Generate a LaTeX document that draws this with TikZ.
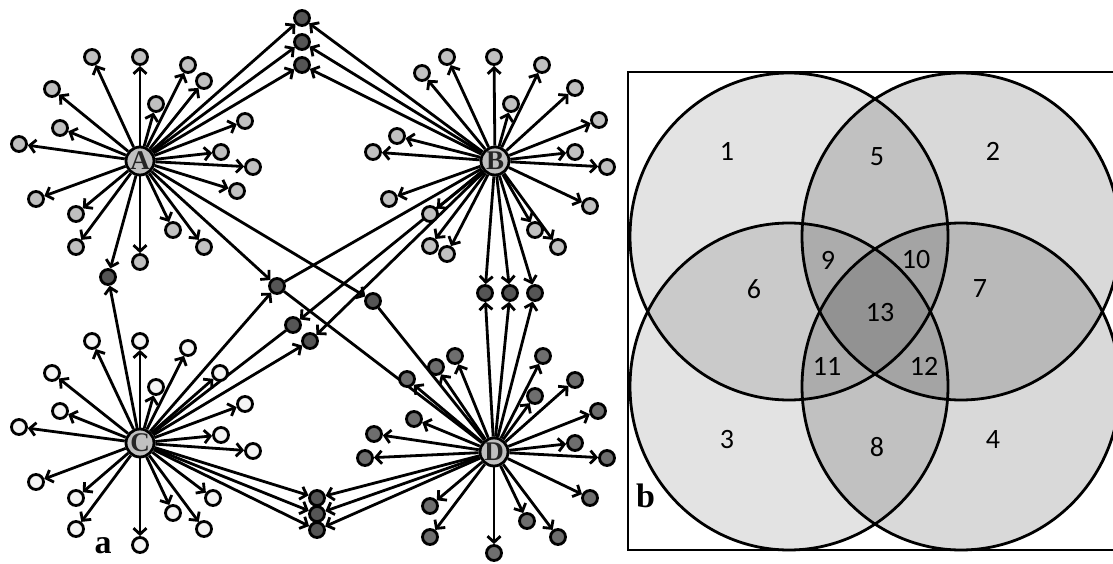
\documentclass[tikz,border=0pt]{standalone}
\usepackage{fontspec}
\setmainfont{Liberation Serif}
\newfontfamily\vennfont{Carlito}
\usetikzlibrary{arrows.meta,backgrounds}
\definecolor{hubgray}{HTML}{C0C0C0}
\definecolor{satlight}{HTML}{C0C0C0}
\definecolor{satwhite}{HTML}{F4F4F4}
\definecolor{satmid}{HTML}{6E6E6E}
\definecolor{shareddark}{HTML}{555555}

\tikzset{
  hub/.style={circle,draw,line width=2.8pt,fill=hubgray,minimum size=28pt,inner sep=0pt,
    font=\fontsize{27}{27}\selectfont\bfseries,text=black!85},
  sat/.style={circle,draw,line width=2.8pt,minimum size=15pt,inner sep=0pt},
  shared/.style={sat,fill=shareddark},
  arr/.style={line width=2.8pt,-{Straight Barb[length=6pt,width=13pt]}},
  link/.style={line width=2.8pt},
  venn/.style={font=\vennfont\fontsize{28}{28}\selectfont,inner sep=0pt},
  panel/.style={font=\fontsize{34}{34}\selectfont\bfseries,inner sep=0pt}
}

\begin{document}
\begin{tikzpicture}[x=1pt,y=-1pt]
  \useasboundingbox (0,0) rectangle (1113,564);

  % hubs
  \node[hub] (A) at (140,161) {A};
  \node[hub] (B) at (495,161) {B};
  \node[hub] (C) at (140,443) {C};
  \node[hub] (D) at (494,452) {D};

  % own neighbours of each hub
  \foreach \x/\y [count=\i] in {92/57,140/57,188/65,204/81,156/104,52/89,60/128,19/144,245/121,
      221/152,253/167,237/191,36/199,76/214,76/247,140/262,173/230,204/247} {
    \node[sat,fill=satlight] (a\i) at (\x,\y) {};
    \begin{scope}[on background layer] \draw[arr] (A) -- (a\i); \end{scope}
  }
  \foreach \x/\y [count=\i] in {447/57,494/57,542/65,422/73,511/104,575/88,599/120,397/136,373/152,
      575/152,607/167,590/206,389/199,430/214,430/246,447/254,535/230,558/247} {
    \node[sat,fill=satlight] (b\i) at (\x,\y) {};
    \begin{scope}[on background layer] \draw[arr] (B) -- (b\i); \end{scope}
  }
  \foreach \x/\y [count=\i] in {92/341,140/341,188/348,156/387,52/373,60/411,19/427,220/373,245/404,
      221/435,253/451,213/498,36/482,76/498,76/529,140/545,173/513,204/529} {
    \node[sat,fill=satwhite] (c\i) at (\x,\y) {};
    \begin{scope}[on background layer] \draw[arr] (C) -- (c\i); \end{scope}
  }
  \foreach \x/\y [count=\i] in {455/356,436/367,407/379,414/419,374/434,365/458,543/356,535/396,575/380,
      598/411,575/443,607/458,590/498,558/537,527/521,494/553,430/506,430/537} {
    \node[sat,fill=satmid] (d\i) at (\x,\y) {};
    \begin{scope}[on background layer] \draw[arr] (D) -- (d\i); \end{scope}
  }

  % shared neighbours
  \foreach \y [count=\i] in {18,42,65} { \node[shared] (t\i) at (302,\y) {}; }
  \foreach \x [count=\i] in {485,510,535} { \node[shared] (r\i) at (\x,293) {}; }
  \foreach \y [count=\i] in {498,514,530} { \node[shared] (m\i) at (317,\y) {}; }
  \node[shared] (ac) at (108,277) {};
  \node[shared] (n1) at (277,286) {};
  \node[shared] (n2) at (373,301) {};
  \node[shared] (n3) at (293,325) {};
  \node[shared] (n4) at (310,341) {};

  \begin{scope}[on background layer]
    \foreach \i in {1,2,3} {
      \draw[arr] (A) -- (t\i); \draw[arr] (B) -- (t\i);
      \draw[arr] (B) -- (r\i); \draw[arr] (D) -- (r\i);
      \draw[arr] (C) -- (m\i); \draw[arr] (D) -- (m\i);
    }
    \draw[arr] (A) -- (ac); \draw[arr] (C) -- (ac);
    \draw[arr] (A) -- (n1); \draw[arr] (C) -- (n1);
    \draw[link] (n1) -- (B); \draw[link] (n1) -- (D);
    \draw[arr] (A) -- (n2); \draw[link] (n2) -- (D);
    \draw[arr] (B) -- (n3); \draw[link] (n3) -- (C);
    \draw[arr] (B) -- (n4); \draw[arr] (C) -- (n4);
  \end{scope}

  \node[panel,anchor=base] (lbla) at (103,553) {a};

  % Venn diagram
  \fill[black,fill opacity=0.11] (789,236.5) ellipse [x radius=159,y radius=163.5];
  \fill[black,fill opacity=0.15] (961,236.5) ellipse [x radius=159,y radius=163.5];
  \fill[black,fill opacity=0.11] (789,386.5) ellipse [x radius=159,y radius=163.5];
  \fill[black,fill opacity=0.15] (961,386.5) ellipse [x radius=159,y radius=163.5];
  \foreach \cx/\cy in {789/236.5,961/236.5,789/386.5,961/386.5} {
    \draw[line width=2.8pt] (\cx,\cy) ellipse [x radius=159,y radius=163.5];
  }
  \draw[line width=2.8pt] (628,72) rectangle (1118,550);
  \foreach \x/\y/\t in {727/151/1,993/151/2,727/440/3,993/440/4,877/157/5,754/289/6,980/289/7,
      877/447/8,828/260/9,916/260/10,827/366/11,924/366/12,880/313/13} {
    \node[venn] (v\t) at (\x,\y) {\t};
  }
  \node[panel,anchor=base west] (lblb) at (636,507) {b};
\end{tikzpicture}
\end{document}
